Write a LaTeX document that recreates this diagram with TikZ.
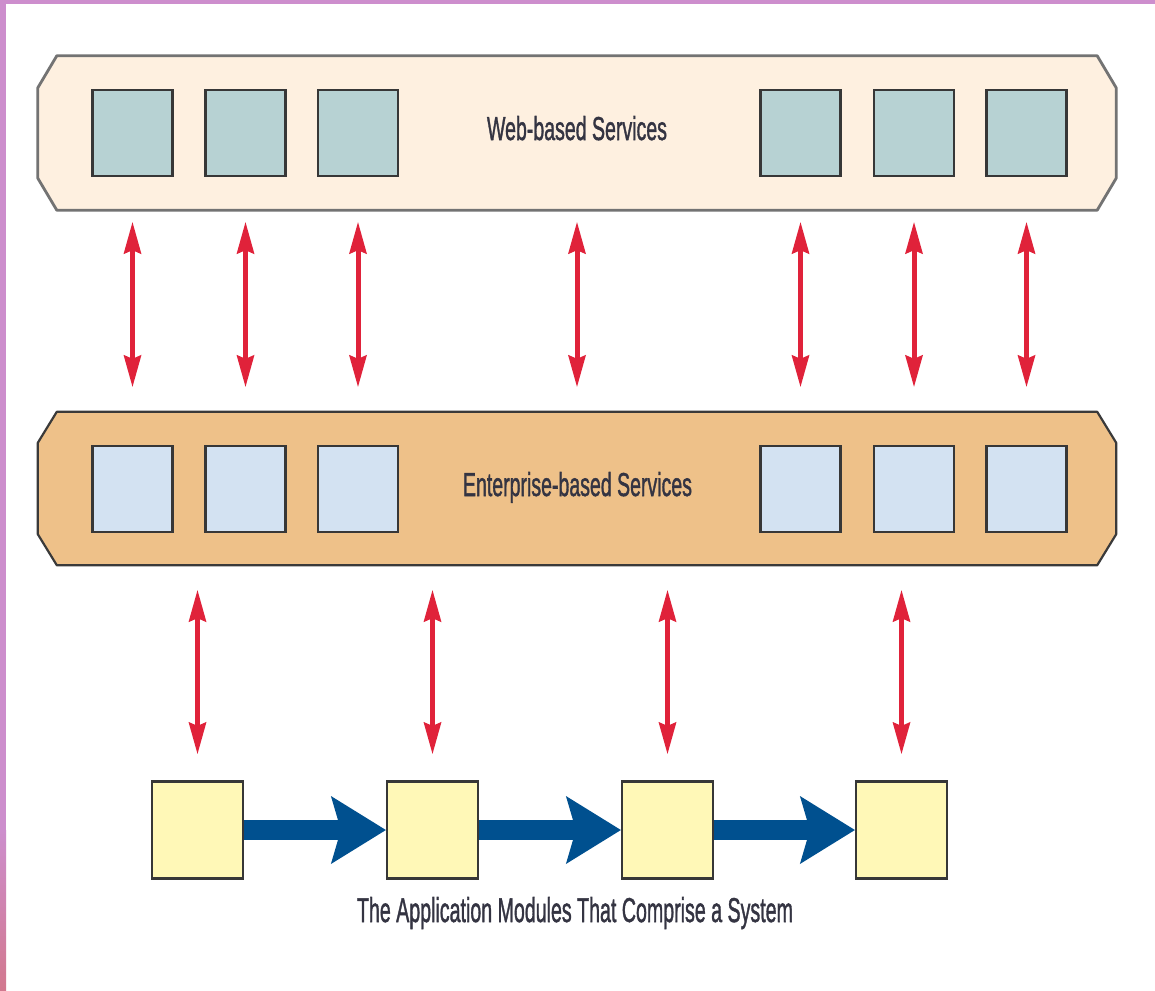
\documentclass[tikz,border=0pt]{standalone}
\usepackage{fontspec}
\usepackage{graphicx}
\usetikzlibrary{arrows.meta,calc}
\newfontfamily\labfont[FakeBold=1.6]{Liberation Sans}
\definecolor{frame}{RGB}{205,142,205}
\definecolor{framelow}{RGB}{210,120,142}
\definecolor{topfill}{RGB}{254,240,224}
\definecolor{topline}{RGB}{115,115,115}
\definecolor{midfill}{RGB}{238,193,137}
\definecolor{midline}{RGB}{58,58,58}
\definecolor{topsqfill}{RGB}{183,210,211}
\definecolor{midsqfill}{RGB}{211,226,242}
\definecolor{botsqfill}{RGB}{255,248,183}
\definecolor{sqline}{RGB}{55,55,55}
\definecolor{redarr}{RGB}{224,34,58}
\definecolor{bluearr}{RGB}{0,80,143}
\definecolor{txt}{RGB}{52,52,66}
\tikzset{
  bandbox/.style={rectangle, draw=none, inner sep=0pt, minimum width=1078pt},
  sq/.style={rectangle, draw=sqline, line width=2.2pt, inner sep=0pt},
  topsq/.style={sq, fill=topsqfill, minimum width=80pt, minimum height=86pt},
  midsq/.style={sq, fill=midsqfill, minimum width=80pt, minimum height=86pt},
  botsq/.style={sq, fill=botsqfill, minimum width=91pt, minimum height=97pt},
  lbl/.style={inner sep=0pt, text=txt, font=\labfont, anchor=base},
  redlink/.style={draw=redarr, fill=redarr, line width=5pt,
    {Stealth[length=32pt,width=18pt,inset=4pt,line width=0pt]}-{Stealth[length=32pt,width=18pt,inset=4pt,line width=0pt]}},
  bluelink/.style={draw=bluearr, fill=bluearr, line width=20pt,
    -{Stealth[length=55pt,width=68pt,inset=10pt,line width=0pt]}},
}
\begin{document}
\begin{tikzpicture}[x=1pt,y=-1pt]
\useasboundingbox (0,0) rectangle (1155,990);
\fill[white] (0,0) rectangle (1155,990);
% frame
\fill[frame] (0,0) rectangle (1155,4);
\fill[frame] (0,0) rectangle (6,830);
\shade[top color=frame, bottom color=framelow] (0,830) rectangle (6,990);

% top band
\node[bandbox, minimum height=154pt] (top) at (577,133) {};
\draw[fill=topfill, draw=topline, line width=2.8pt, line join=round]
  ([xshift=19pt]top.north west) -- ([xshift=-19pt]top.north east)
  -- ([yshift=-32pt]top.north east) -- ([yshift=32pt]top.south east)
  -- ([xshift=-19pt]top.south east) -- ([xshift=19pt]top.south west)
  -- ([yshift=32pt]top.south west) -- ([yshift=-32pt]top.north west) -- cycle;
\node[topsq] (t1) at (132.5,133) {};
\node[topsq] (t2) at (245.5,133) {};
\node[topsq] (t3) at (358,133) {};
\node[topsq] (t4) at (800.5,133) {};
\node[topsq] (t5) at (914,133) {};
\node[topsq] (t6) at (1026.5,133) {};
\node[lbl] (toplbl) at (577,140) {\resizebox{180pt}{24pt}{Web-based Services}};

% middle band
\node[bandbox, minimum height=153pt] (mid) at (577,488.5) {};
\draw[fill=midfill, draw=midline, line width=2.2pt, line join=round]
  ([xshift=19pt]mid.north west) -- ([xshift=-19pt]mid.north east)
  -- ([yshift=-31pt]mid.north east) -- ([yshift=31pt]mid.south east)
  -- ([xshift=-19pt]mid.south east) -- ([xshift=19pt]mid.south west)
  -- ([yshift=31pt]mid.south west) -- ([yshift=-31pt]mid.north west) -- cycle;
\node[midsq] (m1) at (132.5,489) {};
\node[midsq] (m2) at (245.5,489) {};
\node[midsq] (m3) at (358,489) {};
\node[midsq] (m4) at (800.5,489) {};
\node[midsq] (m5) at (914,489) {};
\node[midsq] (m6) at (1026.5,489) {};
\node[lbl] (midlbl) at (577.5,496) {\resizebox{229pt}{24pt}{Enterprise-based Services}};

% bottom modules
\node[botsq] (b1) at (197.5,830) {};
\node[botsq] (b2) at (432.5,830) {};
\node[botsq] (b3) at (667.5,830) {};
\node[botsq] (b4) at (901.5,830) {};
\node[lbl] (cap) at (575,922) {\resizebox{436pt}{25pt}{The Application Modules That Comprise a System}};

% red links top-mid
\foreach \n in {t1,t2,t3,t4,t5,t6}{
  \draw[redlink] ($(top.south -| \n)+(0,12)$) -- ($(mid.north -| \n)+(0,-25)$);
}
\draw[redlink] ($(top.south)+(0,12)$) -- ($(mid.north)+(0,-25)$);

% red links mid-bottom
\foreach \n in {b1,b2,b3,b4}{
  \draw[redlink] ($(mid.south -| \n)+(0,25)$) -- ($(\n.north)+(0,-26.5)$);
}

% blue flow arrows
\draw[bluelink] (b1.east) -- (b2.west);
\draw[bluelink] (b2.east) -- (b3.west);
\draw[bluelink] (b3.east) -- (b4.west);
\end{tikzpicture}
\end{document}
